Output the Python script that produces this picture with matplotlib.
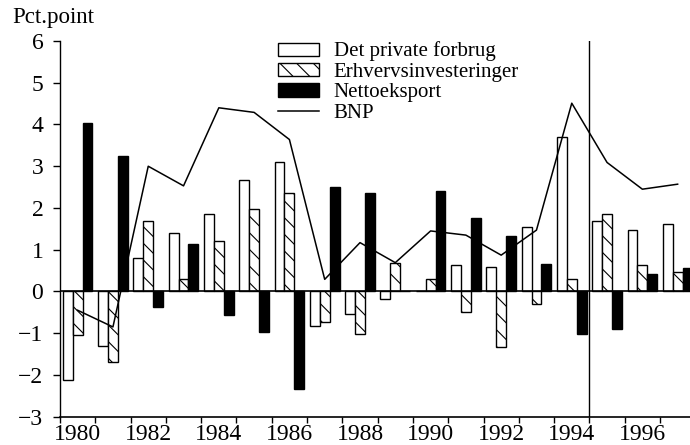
import matplotlib
matplotlib.use("Agg")
import matplotlib.pyplot as plt
import numpy as np

years = list(range(1980, 1998))
forbrug = [-2.13, -1.30, 0.79, 1.41, 1.85, 2.67, 3.11, -0.82, -0.54, -0.19,
           0.0, 0.63, 0.59, 1.55, 3.71, 1.70, 1.47, 1.61]
invest = [-1.05, -1.69, 1.68, 0.31, 1.21, 1.98, 2.35, -0.73, -1.01, 0.69,
          0.31, -0.49, -1.33, -0.31, 0.31, 1.85, 0.63, 0.46]
netto = [4.03, 3.25, -0.38, 1.13, -0.57, -0.97, -2.34, 2.51, 2.37, 0.0,
         2.41, 1.77, 1.34, 0.65, -1.01, -0.91, 0.41, 0.57]
bnp = [-0.45, -0.85, 3.0, 2.53, 4.40, 4.29, 3.64, 0.29, 1.17, 0.69,
       1.45, 1.35, 0.87, 1.47, 4.51, 3.09, 2.45, 2.57]
labels = ["Det private forbrug", "Erhvervsinvesteringer", "Nettoeksport", "BNP"]

plt.rcParams['font.family'] = ['Liberation Serif', 'DejaVu Serif']
plt.rcParams['hatch.linewidth'] = 0.8

fig = plt.figure(figsize=(6.9, 4.45), dpi=100)
ax = fig.add_axes([60 / 690, 1 - 416.7 / 445, 630 / 690, 375.7 / 445])

x = np.array(years, dtype=float)
w = 0.28
b1 = ax.bar(x + 0.22, forbrug, w, color='white', edgecolor='black', lw=1.0)
b2 = ax.bar(x + 0.50, invest, w, color='white', edgecolor='black', lw=1.0, hatch='\\\\')
b3 = ax.bar(x + 0.78, netto, w, color='black', edgecolor='black', lw=1.0)
ln, = ax.plot(x + 0.5, bnp, color='black', lw=1.1)

ax.axhline(0, color='black', lw=1.2)
ax.axvline(1995, color='black', lw=1.0)

ax.set_xlim(1980, 1997.85)
ax.set_ylim(-3, 6)
ax.set_yticks(range(-3, 7))
ax.set_xticks(range(1980, 1998))
ax.set_xticklabels([])
ax.set_xticks([y + 0.5 for y in years if y % 2 == 0], minor=True)
ax.set_xticklabels([str(y) for y in years if y % 2 == 0], minor=True)
ax.tick_params(axis='x', which='minor', length=0, labelsize=17, pad=5)
ax.tick_params(axis='x', which='major', length=4, width=1)
ax.tick_params(axis='y', length=5, width=1, labelsize=17, pad=7)

for s in ['top', 'right']:
    ax.spines[s].set_visible(False)
ax.spines['left'].set_linewidth(1.0)
ax.spines['bottom'].set_linewidth(1.2)

fig.text(12 / 690, 1 - 18 / 445, "Pct.point", fontsize=16.5, va='center', ha='left')

fig.legend([b1, b2, b3, ln], labels, loc='upper left',
           bbox_to_anchor=(263 / 690, 1 - 27 / 445), frameon=False,
           fontsize=15, handlelength=2.0, handleheight=0.6,
           labelspacing=0.07, handletextpad=0.7, borderpad=0.2)

fig.savefig("out.png", dpi=100)
